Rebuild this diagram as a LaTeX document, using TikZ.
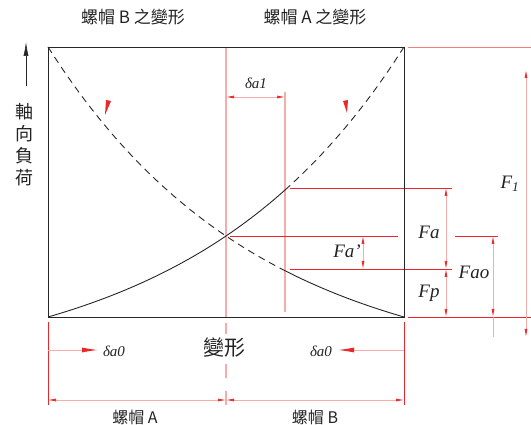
\documentclass[tikz,border=0pt]{standalone}
\usepackage{fontspec}
\setmainfont{Liberation Serif}
\newfontfamily\cjk{Noto Sans CJK TC}
\usetikzlibrary{arrows.meta}

\definecolor{pinkline}{RGB}{247,172,172}
\definecolor{redline}{RGB}{232,40,40}
\definecolor{txtgray}{RGB}{35,35,35}

\begin{document}
\begin{tikzpicture}[x=1pt,y=-1pt,
   cn/.style={font=\cjk\fontsize{16}{22}\selectfont,text=txtgray,inner sep=0pt},
   fn/.style={font=\itshape\fontsize{19}{19}\selectfont,text=txtgray,inner sep=0pt},
   dn/.style={font=\itshape\fontsize{15}{15}\selectfont,text=txtgray,inner sep=0pt},
   dim/.style={pinkline,line width=0.7pt,{Latex[length=8pt,width=3pt,color=redline]}-{Latex[length=8pt,width=3pt,color=redline]}},
   push/.style={pinkline,line width=0.9pt,-{Latex[length=16pt,width=5pt,color=redline]}}]

\tikzstyle {ext} = [redline, line width=0.7pt];
\tikzstyle {guide} = [pinkline, line width=1.2pt];
\tikzstyle {curve} = [black!85, line width=0.9pt];
\tikzstyle {hidden} = [black!85, line width=0.9pt, dash pattern=on 7pt off 5pt];

\useasboundingbox (0,0) rectangle (531,425);

% corners of the box
\coordinate (tl) at (48,47);
\coordinate (tr) at (404,47);
\coordinate (bl) at (48,317);
\coordinate (br) at (404,317);
\coordinate (ctop) at (226,47);
\coordinate (cbot) at (226,317);

% guide lines
\draw[guide] (ctop) -- (cbot);
\draw[guide, dash pattern=on 11pt off 30pt on 14pt off 13pt on 14pt] (226,323) -- (226,405);
\draw[guide] (285,92) -- (285,312);

% extension lines
\draw[ext] (290,188) -- (452,188);
\draw[ext] (230,236) -- (398,236);
\draw[ext] (455,236) -- (498,236);
\draw[ext] (290,269) -- (452,269);
\draw[ext] (408,317) -- (531,317);
\draw[ext, redline!60] (408,47) -- (531,47);
\draw[ext] (48,322) -- (48,405);
\draw[ext] (404,322) -- (404,405);
\draw[pinkline, line width=0.7pt] (493,317) -- (493,337);

% box and curves
\draw[black!85, line width=0.8pt] (tl) rectangle (br);
\draw[curve] plot[domain=48:285,samples=50] (\x,{317-60.75*(exp(0.00476*(\x-48))-1)});
\draw[hidden] plot[domain=285:404,samples=40] (\x,{317-60.75*(exp(0.00476*(\x-48))-1)});
\draw[hidden] plot[domain=48:285,samples=60] (\x,{317-60.75*(exp(0.00476*(404-\x))-1)});
\draw[curve] plot[domain=285:404,samples=40] (\x,{317-60.75*(exp(0.00476*(404-\x))-1)});

\fill[redline] (106,100) -- (111,101) -- (105,115) -- cycle;
\fill[redline] (343,101) -- (348,100) -- (347,113) -- cycle;

% load arrow
\coordinate (ld0) at (26,86);
\coordinate (ld1) at (26,42);
\draw[black!85, line width=0.6pt, -{Latex[length=14pt,width=5pt]}] (ld0) -- (ld1);

% dimension points
\coordinate (d1a) at (226,97);
\coordinate (d1b) at (285,97);
\coordinate (fpa) at (363,236);
\coordinate (fpb) at (363,269);
\coordinate (faa) at (446,188);
\coordinate (fab) at (446,269);
\coordinate (fpp) at (446,317);
\coordinate (foa) at (493,236);
\coordinate (fob) at (493,317);
\coordinate (f1a) at (526,70);
\coordinate (f1b) at (526,337);
\coordinate (l0a) at (48,350);
\coordinate (l0b) at (98,350);
\coordinate (r0a) at (404,350);
\coordinate (r0b) at (338,350);
\coordinate (ba) at (48,400);
\coordinate (bc) at (226,400);
\coordinate (bb) at (404,400);

\path (d1a) edge [dim] (d1b);
\path (fpa) edge [dim] (fpb);
\path (faa) edge [dim] (fab);
\path (fab) edge [dim] (fpp);
\path (foa) edge [dim] (fob);
\path (f1a) edge [dim] (f1b);
\path (l0a) edge [push] (l0b);
\path (r0a) edge [push] (r0b);
\path (ba) edge [dim] (bc);
\path (bc) edge [dim] (bb);

% labels
\node[cn,font=\cjk\fontsize{17}{17}\selectfont] (tB) at (133,17) {螺帽 B 之變形};
\node[cn,font=\cjk\fontsize{17}{17}\selectfont] (tA) at (315,17) {螺帽 A 之變形};
\node[cn,align=center,font=\cjk\fontsize{18}{22}\selectfont] (load) at (25,145) {軸\\向\\負\\荷};
\node[dn] (da1) at (256,83) {δa1};
\node[fn] (fap) at (347,251) {Fa'};
\node[fn] (fa) at (429,232) {Fa};
\node[fn] (fp) at (429,293) {Fp};
\node[fn] (fao) at (474,272) {Fao};
\node[fn] (f1) at (510,184) {F\textsubscript{1}};
\node[dn] (d0l) at (114,351) {δa0};
\node[dn] (d0r) at (321,351) {δa0};
\node[cn,font=\cjk\fontsize{21}{21}\selectfont,fill=white,inner sep=1pt] (def) at (224,348) {變形};
\node[cn] (nA) at (135,417) {螺帽 A};
\node[cn] (nB) at (315,417) {螺帽 B};

\end{tikzpicture}
\end{document}
